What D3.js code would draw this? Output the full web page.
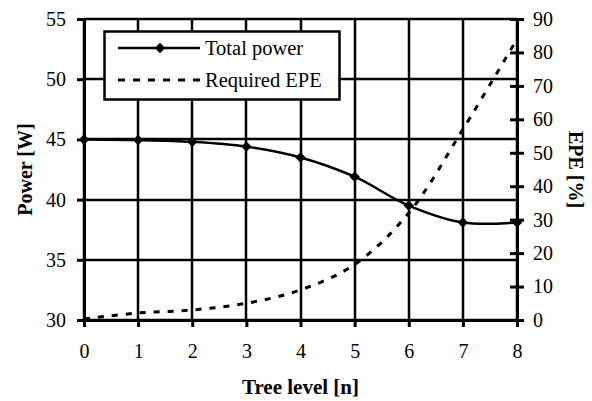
<!DOCTYPE html>
<html>
<head>
<meta charset="utf-8">
<script src="https://cdn.jsdelivr.net/npm/d3@7"></script>
<style>
  body { margin: 0; background: #fff; }
  svg { font-family: "Liberation Serif", "Times New Roman", serif; }
</style>
</head>
<body>
<div id="chart"></div>
<script>
// tree levels on the x axis
const levels = [0, 1, 2, 3, 4, 5, 6, 7, 8];
// total power [W], left axis
const totalPower = [45.0, 44.95, 44.8, 44.4, 43.5, 41.9, 39.5, 38.1, 38.1];
// required EPE [%], right axis
const requiredEPE = [0.3, 2.1, 3.0, 5.0, 9.0, 16.6, 32, 57, 84];

const powerTicks = [30, 35, 40, 45, 50, 55];
const epeTicks = [0, 10, 20, 30, 40, 50, 60, 70, 80, 90];

const width = 592;
const height = 401;
const margin = { left: 84, right: 75, top: 19, bottom: 81 };

const svg = d3
  .select("#chart")
  .append("svg")
  .attr("width", width)
  .attr("height", height);

const x = d3.scaleLinear().domain([0, 8]).range([margin.left, width - margin.right]);
const yL = d3.scaleLinear().domain([30, 55]).range([height - margin.bottom, margin.top]);
const yR = d3.scaleLinear().domain([0, 90]).range([height - margin.bottom, margin.top]);

// grid
svg.append("g")
  .selectAll("line")
  .data(powerTicks)
  .enter()
  .append("line")
  .attr("x1", x(0))
  .attr("x2", x(8))
  .attr("y1", (d) => Math.round(yL(d)))
  .attr("y2", (d) => Math.round(yL(d)))
  .attr("stroke", "#000")
  .attr("stroke-width", 2.5);

svg.append("g")
  .selectAll("line")
  .data(levels)
  .enter()
  .append("line")
  .attr("x1", (d) => Math.round(x(d)))
  .attr("x2", (d) => Math.round(x(d)))
  .attr("y1", yL(30))
  .attr("y2", yL(55))
  .attr("stroke", "#000")
  .attr("stroke-width", 2.5);

// axes
const xAxis = svg.append("g")
  .attr("transform", `translate(0,${yL(30)})`)
  .call(d3.axisBottom(x).tickValues(levels).tickSize(7).tickPadding(17).tickFormat(d3.format("d")));

const leftAxis = svg.append("g")
  .attr("transform", `translate(${x(0)},0)`)
  .call(d3.axisLeft(yL).tickValues(powerTicks).tickSize(7).tickPadding(11));

const rightAxis = svg.append("g")
  .attr("transform", `translate(${x(8)},0)`)
  .call(d3.axisRight(yR).tickValues(epeTicks).tickSize(7).tickPadding(9));

// right ticks cross the axis
rightAxis.selectAll(".tick line").attr("x1", -7);

[xAxis, leftAxis, rightAxis].forEach((g) => {
  g.select(".domain").attr("stroke", "#000").attr("stroke-width", 3);
  g.selectAll(".tick line").attr("stroke", "#000").attr("stroke-width", 3);
  g.selectAll("text")
    .attr("font-family", "Liberation Serif")
    .attr("font-size", 20)
    .attr("fill", "#000");
});

// lines
const powerLine = d3.line()
  .x((d, i) => x(levels[i]))
  .y((d) => yL(d))
  .curve(d3.curveCatmullRom.alpha(0.5));

const epeLine = d3.line()
  .x((d, i) => x(levels[i]))
  .y((d) => yR(d))
  .curve(d3.curveCatmullRom.alpha(0.5));

svg.append("path")
  .datum(requiredEPE)
  .attr("d", epeLine)
  .attr("fill", "none")
  .attr("stroke", "#000")
  .attr("stroke-width", 3)
  .attr("stroke-dasharray", "6,8");

svg.append("path")
  .datum(totalPower)
  .attr("d", powerLine)
  .attr("fill", "none")
  .attr("stroke", "#000")
  .attr("stroke-width", 2.5);

const diamond = d3.symbol().type(d3.symbolDiamond2).size(70);

svg.append("g")
  .selectAll("path")
  .data(totalPower)
  .enter()
  .append("path")
  .attr("d", diamond)
  .attr("transform", (d, i) => `translate(${x(levels[i])},${yL(d)})`)
  .attr("fill", "#000");

// legend
const legend = svg.append("g");
legend.append("rect")
  .attr("x", 104.5)
  .attr("y", 31.5)
  .attr("width", 235)
  .attr("height", 68)
  .attr("fill", "#fff")
  .attr("stroke", "#000")
  .attr("stroke-width", 2.5);

legend.append("line")
  .attr("x1", 118).attr("x2", 200)
  .attr("y1", 48).attr("y2", 48)
  .attr("stroke", "#000").attr("stroke-width", 2.5);
legend.append("path")
  .attr("d", diamond)
  .attr("transform", "translate(160,48)")
  .attr("fill", "#000");
legend.append("line")
  .attr("x1", 118).attr("x2", 201)
  .attr("y1", 80).attr("y2", 80)
  .attr("stroke", "#000").attr("stroke-width", 3)
  .attr("stroke-dasharray", "7,8");

legend.selectAll("text")
  .data(["Total power", "Required EPE"])
  .enter()
  .append("text")
  .attr("x", 205)
  .attr("y", (d, i) => 55 + i * 32)
  .attr("font-size", 20.5)
  .text((d) => d);

// axis titles
svg.append("text")
  .attr("x", (x(0) + x(8)) / 2)
  .attr("y", 394)
  .attr("text-anchor", "middle")
  .attr("font-weight", "bold")
  .attr("font-size", 21)
  .text("Tree level [n]");

svg.append("text")
  .attr("transform", `translate(32,${(yL(30) + yL(55)) / 2}) rotate(-90)`)
  .attr("text-anchor", "middle")
  .attr("font-weight", "bold")
  .attr("font-size", 20)
  .text("Power [W]");

svg.append("text")
  .attr("transform", `translate(569,${(yL(30) + yL(55)) / 2}) rotate(90)`)
  .attr("text-anchor", "middle")
  .attr("font-weight", "bold")
  .attr("font-size", 20)
  .text("EPE [%]");
</script>
</body>
</html>
